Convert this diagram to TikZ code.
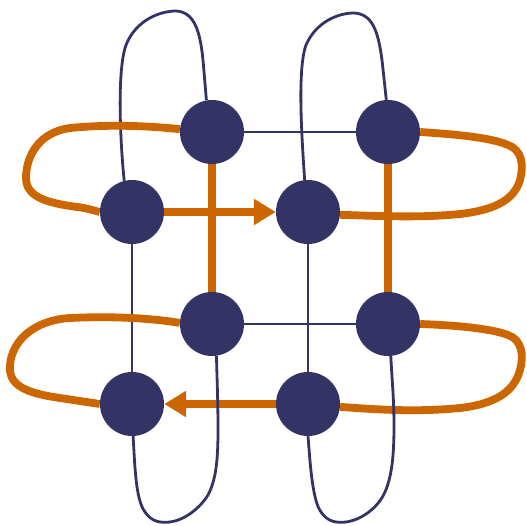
\documentclass[tikz,border=0pt]{standalone}
\usetikzlibrary{arrows.meta}
\definecolor{navy}{HTML}{333366}
\definecolor{burnt}{HTML}{CC6600}
\pgfdeclarelayer{bg}
\pgfsetlayers{bg,main}
\tikzset{
  dot/.style={circle,fill=navy,draw=none,minimum size=64pt,inner sep=0pt},
  thin/.style={draw=navy,line width=2.8pt},
  thick/.style={draw=burnt,line width=7.8pt},
  tip/.style={-{Triangle[length=22pt,width=25pt]}}
}
\begin{document}
\begin{tikzpicture}[x=1pt,y=-1pt]
\useasboundingbox (0,0) rectangle (527,525);
\node[dot] (A) at (212,132) {};
\node[dot] (B) at (388,132) {};
\node[dot] (C) at (132,212) {};
\node[dot] (D) at (308,212) {};
\node[dot] (E) at (212,324) {};
\node[dot] (F) at (388,324) {};
\node[dot] (G) at (132,404) {};
\node[dot] (H) at (308,404) {};
\begin{pgfonlayer}{bg}
% straight thin lines
\draw[thin] (A) -- (B);
\draw[thin] (E) -- (F);
\draw[thin] (C) -- (G);
\draw[thin] (D) -- (H);
% top thin loops
\draw[thin] (C.104) .. controls (120,140) and (117,70) .. (126,45)
  .. controls (136,20) and (160,11) .. (176,11)
  .. controls (194,12) and (200,30) .. (203,60)
  .. controls (205,80) .. (A.100);
\draw[thin] (D.96) .. controls (302,140) and (297,70) .. (306,45)
  .. controls (316,22) and (338,13) .. (354,13)
  .. controls (372,14) and (378,30) .. (382,60)
  .. controls (385,80) .. (B.93);
% orange
\draw[thick] (A) -- (E);
\draw[thick] (B) -- (F);
\draw[thick,tip] (C) -- (D);
\draw[thick,tip] (H) -- (G);
\draw[thick] (A.175) .. controls (150,126) and (110,124) .. (70,128)
  .. controls (40,132) and (26,155) .. (26,178)
  .. controls (26,196) and (45,202) .. (70,206)
  .. controls (85,208) .. (C.180);
\draw[thick] (B.0) .. controls (450,134) and (490,137) .. (508,145)
  .. controls (522,150) and (524,165) .. (520,180)
  .. controls (514,200) and (495,210) .. (460,214)
  .. controls (420,218) and (380,216) .. (D.355);
\draw[thick] (E.178) .. controls (150,318) and (110,316) .. (70,318)
  .. controls (35,320) and (12,340) .. (10,365)
  .. controls (8,385) and (25,393) .. (60,398)
  .. controls (80,401) .. (G.180);
\draw[thick] (F.0) .. controls (450,325) and (490,328) .. (508,335)
  .. controls (522,340) and (524,355) .. (520,370)
  .. controls (514,392) and (495,404) .. (460,408)
  .. controls (420,412) and (380,410) .. (H.355);
% bottom thin loops
\draw[thin] (G.272) .. controls (135,470) and (136,500) .. (145,512)
  .. controls (152,522) and (160,523) .. (170,522)
  .. controls (185,520) and (200,508) .. (208,495)
  .. controls (216,480) and (218,460) .. (218,430)
  .. controls (218,400) and (217,380) .. (E.278);
\draw[thin] (H.270) .. controls (310,460) and (312,500) .. (321,512)
  .. controls (328,522) and (336,523) .. (346,522)
  .. controls (361,520) and (378,508) .. (385,492)
  .. controls (392,476) and (394,455) .. (394,425)
  .. controls (394,400) and (392,380) .. (F.275);
\end{pgfonlayer}
\end{tikzpicture}
\end{document}
